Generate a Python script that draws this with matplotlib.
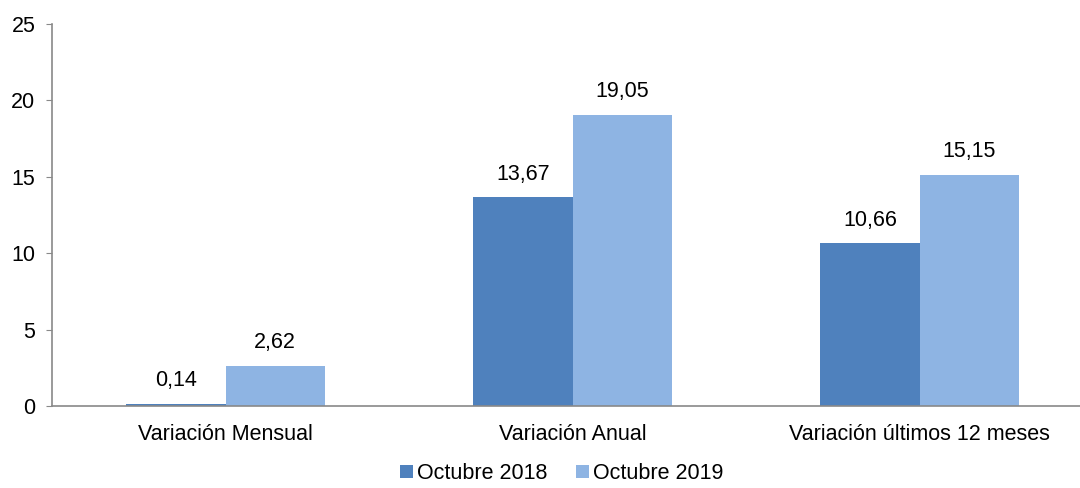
import numpy as np
import matplotlib.pyplot as plt

plt.rcParams['font.family'] = ['Liberation Sans', 'DejaVu Sans']

categories = ["Variación Mensual", "Variación Anual", "Variación últimos 12 meses"]
series_names = ["Octubre 2018", "Octubre 2019"]
oct_2018 = [0.14, 13.67, 10.66]
oct_2019 = [2.62, 19.05, 15.15]
colors = ["#4F81BD", "#8EB4E3"]

fs = 15.5
fig = plt.figure(figsize=(10.8, 4.88), dpi=100)
ax = fig.add_axes([52 / 1080, 1 - 406 / 488, 1 - 52 / 1080, (406 - 24) / 488])

x = np.arange(len(categories))
w = 0.286
for i, (vals, name) in enumerate(zip([oct_2018, oct_2019], series_names)):
    pos = x + (i - 0.5) * w
    bars = ax.bar(pos, vals, width=w, color=colors[i], label=name, zorder=2)
    for b, v in zip(bars, vals):
        ax.annotate(f"{v:.2f}".replace(".", ","), (b.get_x() + b.get_width() / 2, v),
                    xytext=(0, 9), textcoords="offset points",
                    ha="center", va="bottom", fontsize=fs)

ax.set_xlim(-0.5, 2.4625)
ax.set_ylim(0, 25)
ax.set_yticks(range(0, 26, 5))
ax.set_xticks(x)
ax.set_xticklabels(categories, fontsize=fs)
ax.tick_params(axis="y", labelsize=fs, length=4, color="#898989", pad=8)
ax.tick_params(axis="x", length=0, pad=13)
for s in ["top", "right"]:
    ax.spines[s].set_visible(False)
for s in ["left", "bottom"]:
    ax.spines[s].set_color("#898989")
    ax.spines[s].set_linewidth(1.2)

fig.legend(loc="lower center", bbox_to_anchor=(0.52, -0.032), ncol=2, frameon=False,
           fontsize=fs, handlelength=0.6, handleheight=0.6, handletextpad=0.2,
           columnspacing=1.3)

fig.savefig("out.png", dpi=100)
